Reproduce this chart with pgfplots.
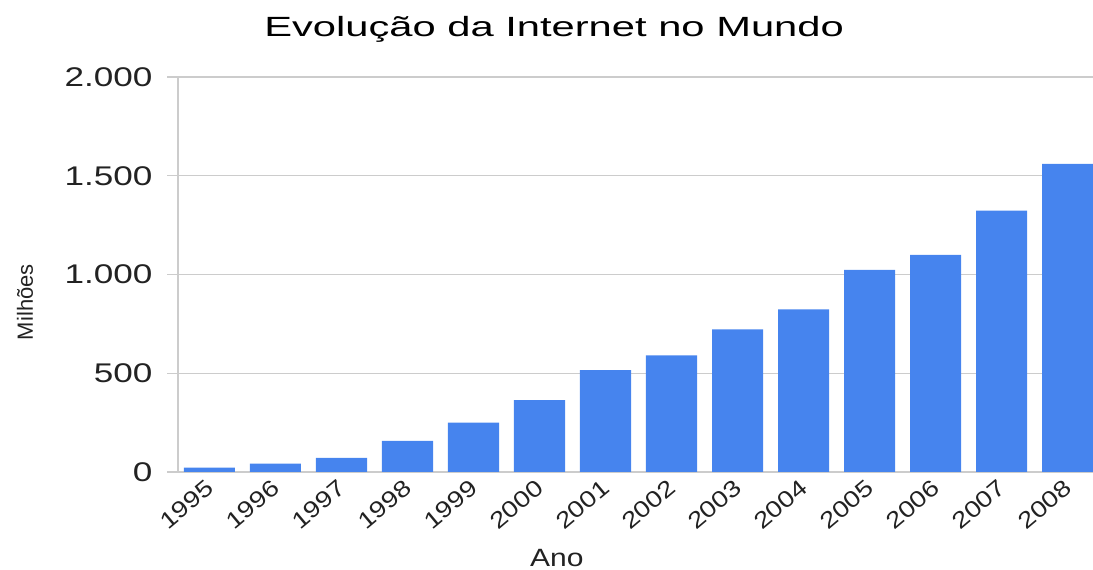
\documentclass[border=0pt]{standalone}
\usepackage{fontspec}
\setmainfont{Liberation Sans}
\newfontfamily\titlefont{Liberation Sans}[FakeStretch=1.5]
\newfontfamily\tickfont{Liberation Sans}[FakeStretch=1.3]
\newfontfamily\xtickfont{Liberation Sans}[FakeStretch=1.2]
\newfontfamily\labfont{Liberation Sans}[FakeStretch=1.2]
\usepackage{pgfplots}
\pgfplotsset{compat=1.18}
\definecolor{barblue}{RGB}{70,132,238}
\definecolor{gridgray}{RGB}{204,204,204}
\definecolor{txt}{RGB}{34,34,34}
\begin{document}
\begin{tikzpicture}
\useasboundingbox (0,0) rectangle (1093bp,570bp);
\begin{axis}[
  at={(178bp,98bp)}, anchor=south west,
  scale only axis, width=915bp, height=395bp,
  xmin=-0.477, xmax=13.386, ymin=0, ymax=2000,
  axis lines=left,
  axis line style={draw=gridgray, line width=1.2bp, -},
  ymajorgrids, grid style={draw=gridgray, line width=1.2bp},
  ytick={0,500,1000,1500,2000},
  tick align=outside,
  major tick length=11bp,
  ytick style={draw=gridgray, line width=1.2bp},
  yticklabel style={font=\tickfont\fontsize{27bp}{30bp}\selectfont, text=txt, xshift=-11bp},
  /pgf/number format/.cd, use comma, 1000 sep={.}, assume math mode=true,
  /pgfplots/.cd,
  xtick={0,...,13},
  xticklabels={1995,1996,1997,1998,1999,2000,2001,2002,2003,2004,2005,2006,2007,2008},
  x tick style={draw=none},
  xticklabel style={font=\xtickfont\fontsize{23bp}{26bp}\selectfont, text=txt, rotate=40, anchor=north east, xshift=3bp, yshift=10bp},
  extra x ticks={-0.477,0.523,1.523,2.523,3.523,4.523,5.523,6.523,7.523,8.523,9.523,10.523,11.523,12.523},
  extra x tick labels={},
  extra x tick style={major tick length=6bp, tick style={draw=gridgray, line width=1.2bp}},
  title={Evolução da Internet no Mundo},
  title style={font=\titlefont\fontsize{27.8bp}{30bp}\selectfont, text=black, at={(axis description cs:0.411,1.1013)}, anchor=base, yshift=-6pt},
  xlabel={Ano},
  xlabel style={font=\labfont\fontsize{25bp}{28bp}\selectfont, text=txt, at={(axis description cs:0.414,-0.2177)}, anchor=center},
  ylabel={Milhões},
  ylabel style={font=\fontsize{22bp}{24bp}\selectfont, text=txt, at={(axis description cs:-0.1672,0.43)}, anchor=center},
]
\addplot[ybar, bar width=0.773, fill=barblue, draw=none] coordinates {
(0,22) (1,43) (2,72) (3,157) (4,250) (5,364) (6,516) (7,590) (8,722) (9,824) (10,1023) (11,1099) (12,1323) (13,1560)
};
\end{axis}
\end{tikzpicture}
\end{document}
